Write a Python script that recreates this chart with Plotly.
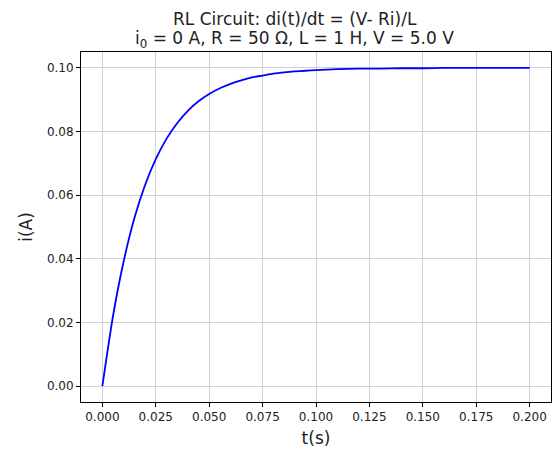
import plotly.graph_objects as go

# Values
t_vals = [0.0, 0.005, 0.01, 0.015, 0.02, 0.025, 0.03, 0.035, 0.04, 0.045, 0.05,
          0.055, 0.06, 0.065, 0.07, 0.075, 0.08, 0.085, 0.09, 0.095, 0.1,
          0.11, 0.12, 0.13, 0.14, 0.15, 0.16, 0.17, 0.18, 0.19, 0.2]
i_vals = [0.0, 0.0221, 0.0393, 0.0528, 0.0632, 0.0713, 0.0777, 0.0826, 0.0865, 0.0895, 0.0918,
          0.0936, 0.0950, 0.0961, 0.0970, 0.0976, 0.0982, 0.0986, 0.0989, 0.0991, 0.0993,
          0.0996, 0.0998, 0.0998, 0.0999, 0.0999, 0.1000, 0.1000, 0.1000, 0.1000, 0.1000]
x_ticks = [0.0, 0.025, 0.05, 0.075, 0.1, 0.125, 0.15, 0.175, 0.2]
x_tick_labels = ["0.000", "0.025", "0.050", "0.075", "0.100", "0.125", "0.150", "0.175", "0.200"]
y_ticks = [0.0, 0.02, 0.04, 0.06, 0.08, 0.10]
y_tick_labels = ["0.00", "0.02", "0.04", "0.06", "0.08", "0.10"]
title_lines = ["RL Circuit: di(t)/dt = (V- Ri)/L",
               "i<sub>0</sub> = 0 A, R = 50 Ω, L = 1 H, V = 5.0 V"]

font = "DejaVu Sans"

fig = go.Figure()
fig.add_trace(go.Scatter(x=t_vals, y=i_vals, mode="lines",
                         line=dict(color="blue", width=1.8, shape="spline", smoothing=0.6),
                         showlegend=False))

axis_common = dict(
    showline=True, linecolor="black", linewidth=1, mirror=True,
    ticks="outside", ticklen=4, tickcolor="black", tickwidth=1,
    showgrid=True, gridcolor="#d0d0d0", gridwidth=1, zeroline=False,
    tickfont=dict(family=font, size=12, color="#222"), automargin=False,
)

fig.update_layout(
    width=559, height=449,
    margin=dict(l=81, r=8, t=52, b=47),
    paper_bgcolor="white", plot_bgcolor="white",
    xaxis=dict(range=[-0.01, 0.21], tickvals=x_ticks, ticktext=x_tick_labels,
               title=dict(text="t(s)", font=dict(family=font, size=17, color="#222"), standoff=8),
               **axis_common),
    yaxis=dict(range=[-0.005, 0.105], tickvals=y_ticks, ticktext=y_tick_labels,
               title=dict(text="i(A)", font=dict(family=font, size=17, color="#222"), standoff=9),
               **axis_common),
)

for line, ypos in zip(title_lines, [1.094, 1.036]):
    fig.add_annotation(text=line, xref="paper", yref="paper", x=0.455, y=ypos,
                       xanchor="center", yanchor="middle", showarrow=False,
                       font=dict(family=font, size=17, color="#222"))

fig.write_html("out.html")
